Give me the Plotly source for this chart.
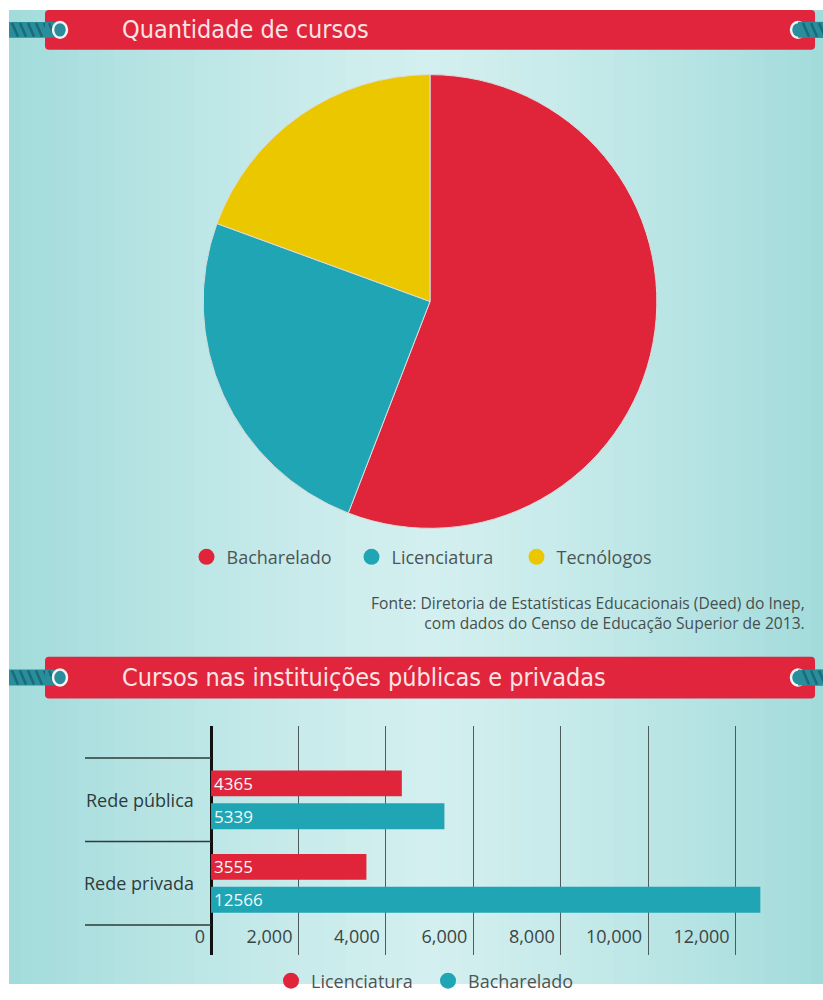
import plotly.graph_objects as go

# ---------------- data ----------------
pie_labels = ["Bacharelado", "Licenciatura", "Tecnólogos"]
pie_values = [17905, 7920, 6224]

bar_categories = ["Rede pública", "Rede privada"]
licenciatura_vals = [4365, 3555]
bacharelado_vals = [5339, 12566]

x_tickvals = [0, 2000, 4000, 6000, 8000, 10000, 12000]

title_1 = "Quantidade de cursos"
title_2 = "Cursos nas instituições públicas e privadas"
source_text = ("Fonte: Diretoria de Estatísticas Educacionais (Deed) do Inep,<br>"
               "com dados do Censo de Educação Superior de 2013.")

# ---------------- style ----------------
W, H = 823, 1000
HV = 989  # effective vertical scale used for placing elements
RED = "#e0253b"
TEAL = "#1fa5b4"
YELLOW = "#ebc700"
HEAD_RED = "#e0253c"
TXT = "#4a5656"
HEAD_FONT = "DejaVu Sans Condensed, DejaVu Sans, sans-serif"
BODY_FONT = "Open Sans, Liberation Sans, sans-serif"


def px(x):
    return x / W


def py(y):
    return 1 - y / HV


def hexmix(c1, c2, t):
    a = [int(c1[i:i + 2], 16) for i in (1, 3, 5)]
    b = [int(c2[i:i + 2], 16) for i in (1, 3, 5)]
    return "#" + "".join(f"{round(a[k] + (b[k] - a[k]) * t):02x}" for k in range(3))


shapes = []
n = 70
x_start, x_end, x_mid = 9, W, 430
EDGE = "#a2dbdb"
MID = "#d3efef"
for i in range(n):
    x0 = x_start + (x_end - x_start) * i / n
    x1 = x_start + (x_end - x_start) * (i + 1) / n
    xc = (x0 + x1) / 2
    if xc < x_mid:
        d = (x_mid - xc) / (x_mid - x_start)
    else:
        d = (xc - x_mid) / (x_end - x_mid)
    t = max(0.0, 1 - d ** 1.3)
    shapes.append(dict(type="rect", xref="paper", yref="paper", layer="below",
                       x0=px(x0), x1=px(x1) + 0.001, y0=0, y1=py(10),
                       fillcolor=hexmix(EDGE, MID, t), line=dict(width=0)))


def rounded_rect(x0, y0, x1, y1, r):
    return (f"M {px(x0 + r)} {py(y0)} L {px(x1 - r)} {py(y0)} "
            f"Q {px(x1)} {py(y0)} {px(x1)} {py(y0 + r)} "
            f"L {px(x1)} {py(y1 - r)} Q {px(x1)} {py(y1)} {px(x1 - r)} {py(y1)} "
            f"L {px(x0 + r)} {py(y1)} Q {px(x0)} {py(y1)} {px(x0)} {py(y1 - r)} "
            f"L {px(x0)} {py(y0 + r)} Q {px(x0)} {py(y0)} {px(x0 + r)} {py(y0)} Z")


ROPE = "#2a8d9c"
ROPE_DARK = "#1a6b78"


def header(y0, y1):
    yc = (y0 + y1) / 2
    shapes.append(dict(type="rect", xref="paper", yref="paper",
                       x0=px(9), x1=px(60), y0=py(yc + 8), y1=py(yc - 8),
                       fillcolor=ROPE, line=dict(width=0)))
    for k in range(6):
        xs = 12 + k * 8
        shapes.append(dict(type="line", xref="paper", yref="paper",
                           x0=px(xs), y0=py(yc - 7), x1=px(xs + 6), y1=py(yc + 7),
                           line=dict(color=ROPE_DARK, width=2.5)))
    shapes.append(dict(type="rect", xref="paper", yref="paper",
                       x0=px(796), x1=px(823), y0=py(yc + 8), y1=py(yc - 8),
                       fillcolor=ROPE, line=dict(width=0)))
    shapes.append(dict(type="path", xref="paper", yref="paper",
                       path=rounded_rect(45, y0, 815, y1, 4),
                       fillcolor=HEAD_RED, line=dict(width=0)))
    shapes.append(dict(type="rect", xref="paper", yref="paper",
                       x0=px(45), x1=px(60), y0=py(yc + 8), y1=py(yc - 8),
                       fillcolor=ROPE, line=dict(width=0)))
    shapes.append(dict(type="line", xref="paper", yref="paper",
                       x0=px(49), y0=py(yc - 7), x1=px(55), y1=py(yc + 7),
                       line=dict(color=ROPE_DARK, width=2.5)))
    shapes.append(dict(type="circle", xref="paper", yref="paper",
                       x0=px(53), x1=px(67), y0=py(yc + 8), y1=py(yc - 8),
                       fillcolor=ROPE, line=dict(color="#f4f4f4", width=2.5)))
    shapes.append(dict(type="circle", xref="paper", yref="paper",
                       x0=px(791), x1=px(805), y0=py(yc + 8), y1=py(yc - 8),
                       fillcolor=ROPE, line=dict(color="#f4f4f4", width=2.5)))
    shapes.append(dict(type="rect", xref="paper", yref="paper",
                       x0=px(798), x1=px(823), y0=py(yc + 8), y1=py(yc - 8),
                       fillcolor=ROPE, line=dict(width=0)))
    for k in range(3):
        xs = 803 + k * 8
        shapes.append(dict(type="line", xref="paper", yref="paper",
                           x0=px(xs), y0=py(yc - 7), x1=px(xs + 6), y1=py(yc + 7),
                           line=dict(color=ROPE_DARK, width=2.5)))


header(10, 50)
header(660, 702)

# category separator lines left of the bar chart
for b in [-0.5, 0.5, 1.5]:
    shapes.append(dict(type="line", xref="paper", yref="y",
                       x0=px(85), x1=px(211), y0=b, y1=b,
                       line=dict(color="#2f3a3a", width=1.5)))

fig = go.Figure()

fig.add_trace(go.Pie(
    labels=pie_labels, values=pie_values, sort=False, direction="clockwise",
    rotation=0, textinfo="none", showlegend=False,
    marker=dict(colors=[RED, TEAL, YELLOW], line=dict(color="#dcdcdc", width=1)),
    domain=dict(x=[px(430 - 228), px(430 + 228)], y=[py(303 + 228), py(303 - 228)]),
    hovertemplate="%{label}: %{value}<extra></extra>",
))

for name, vals, col in [("Licenciatura", licenciatura_vals, RED),
                        ("Bacharelado", bacharelado_vals, TEAL)]:
    fig.add_trace(go.Bar(
        name=name, y=bar_categories, x=vals, orientation="h",
        marker=dict(color=col, line=dict(width=0)), showlegend=False,
        legend="legend2",
        text=[str(v) for v in vals], textposition="inside", constraintext="none",
        insidetextanchor="start",
        textfont=dict(color="#f3fafa", size=17, family=BODY_FONT),
    ))

for lab, col in zip(pie_labels, [RED, TEAL, YELLOW]):
    fig.add_trace(go.Scatter(x=[None], y=[None], mode="markers", name=lab,
                             marker=dict(color=col, size=20, symbol="circle"),
                             legend="legend", hoverinfo="skip"))
for lab, col in [("Licenciatura", RED), ("Bacharelado", TEAL)]:
    fig.add_trace(go.Scatter(x=[None], y=[None], mode="markers", name=lab,
                             marker=dict(color=col, size=20, symbol="circle"),
                             legend="legend2", hoverinfo="skip"))

annotations = [
    dict(text=title_1, xref="paper", yref="paper", x=px(120), y=py(30),
         xanchor="left", yanchor="middle", showarrow=False,
         font=dict(family=HEAD_FONT, size=25, color="#fbe4e4")),
    dict(text=title_2, xref="paper", yref="paper", x=px(120), y=py(681),
         xanchor="left", yanchor="middle", showarrow=False,
         font=dict(family=HEAD_FONT, size=25, color="#fbe4e4")),
    dict(text=source_text, xref="paper", yref="paper", x=px(807), y=py(616),
         xanchor="right", yanchor="middle", align="right", showarrow=False,
         font=dict(family=BODY_FONT, size=15.6, color="#454f4f")),
]
for cat in bar_categories:
    annotations.append(dict(text=cat, xref="paper", yref="y", x=px(196), y=cat,
                            xanchor="right", yanchor="middle", showarrow=False,
                            font=dict(family=BODY_FONT, size=18, color="#2e3c3c")))

fig.update_layout(
    width=W, height=H,
    margin=dict(l=0, r=0, t=0, b=0),
    paper_bgcolor="white", plot_bgcolor="rgba(0,0,0,0)",
    shapes=shapes, annotations=annotations,
    barmode="group", bargap=0.214, bargroupgap=0.212,
    font=dict(family=BODY_FONT, color=TXT),
    legend=dict(orientation="h", traceorder="normal", x=px(434), xanchor="center",
                y=py(560), yanchor="middle", bgcolor="rgba(0,0,0,0)", entrywidth=120,
                font=dict(size=18, color=TXT, family=BODY_FONT), itemsizing="trace"),
    legend2=dict(orientation="h", traceorder="normal", x=px(428), xanchor="center",
                 y=py(986), yanchor="middle", bgcolor="rgba(0,0,0,0)", entrywidth=112,
                 font=dict(size=18, color=TXT, family=BODY_FONT), itemsizing="trace"),
    xaxis=dict(domain=[px(211 - 26.2), 1], range=[-600, 14000], tickvals=x_tickvals,
               tickformat=",", ticklabelposition="inside left", ticks="",
               ticklabelshift=-6, ticklabelstandoff=3,
               showgrid=True, gridcolor="#4e5c5c", gridwidth=1,
               zeroline=True, zerolinecolor="#111111", zerolinewidth=2.5,
               showline=False, tickfont=dict(size=18, color="#3a4646", family=BODY_FONT),
               fixedrange=True),
    yaxis=dict(domain=[py(960), py(730)], type="category",
               categoryorder="array", categoryarray=bar_categories,
               range=[1.86, -0.88], ticks="", showgrid=False, zeroline=False,
               showline=False, showticklabels=False, fixedrange=True),
)

fig.write_html("out.html")
